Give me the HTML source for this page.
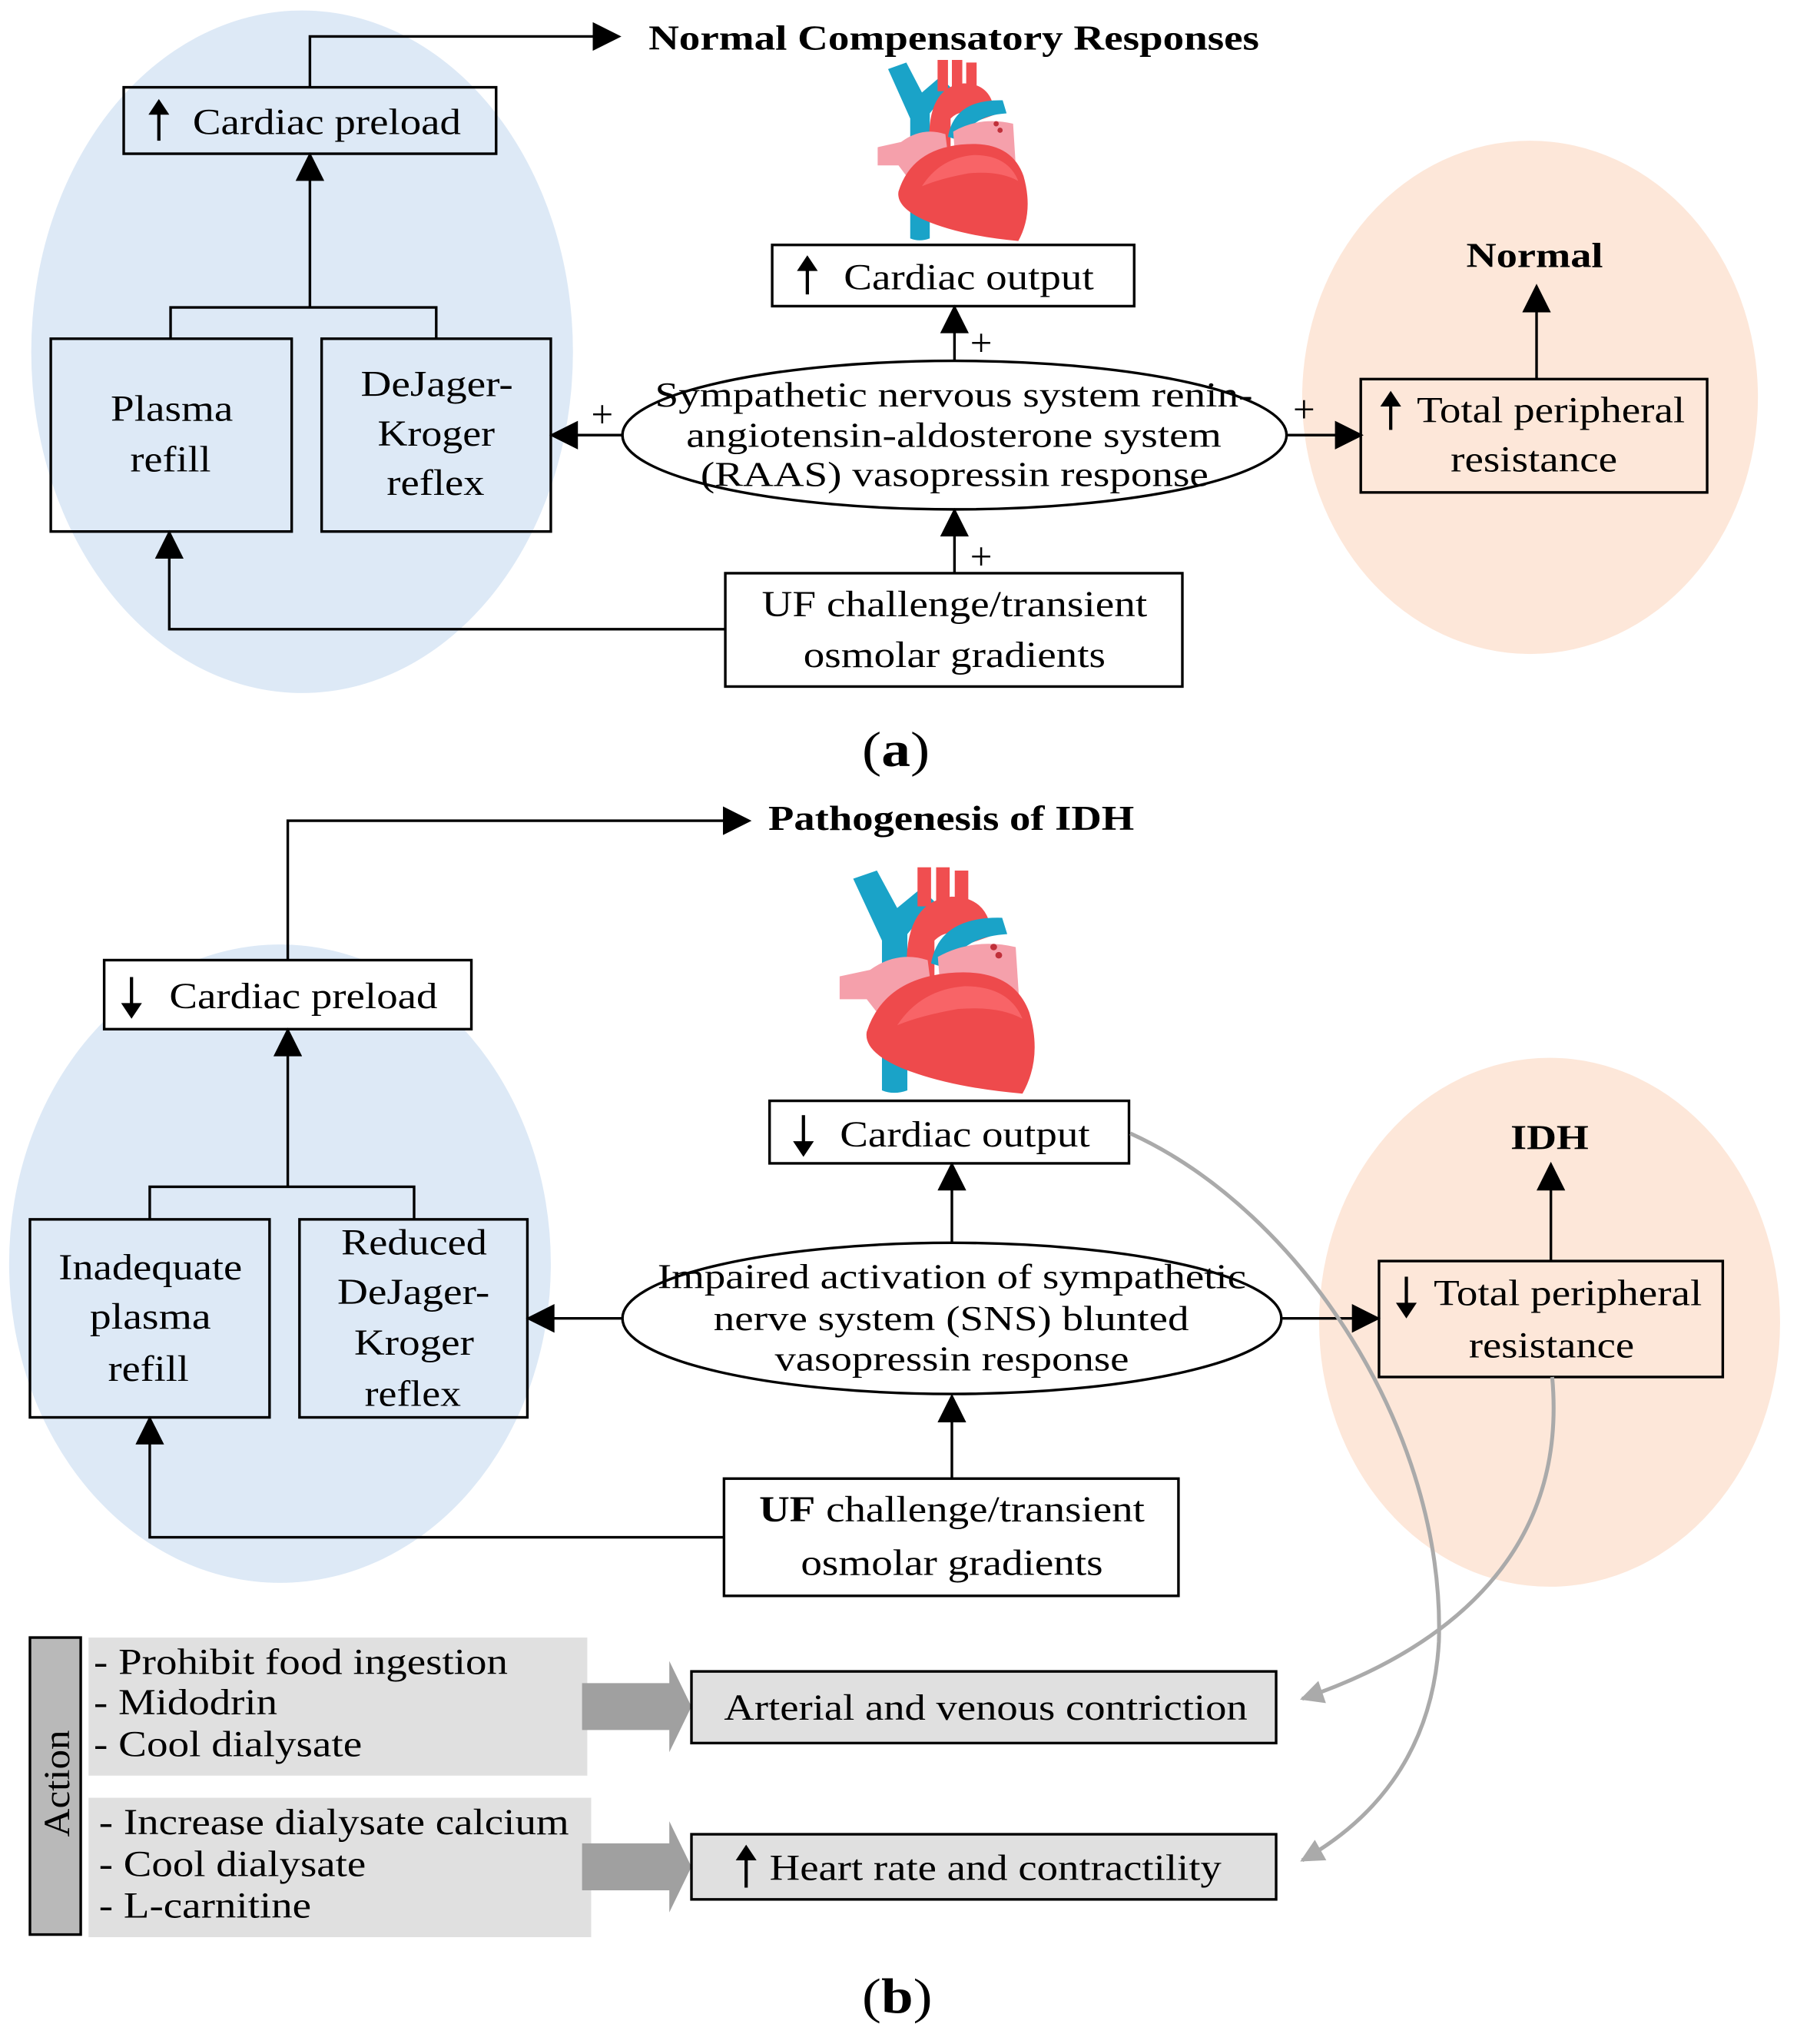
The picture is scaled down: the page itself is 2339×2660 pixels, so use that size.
<!DOCTYPE html>
<html><head><meta charset="utf-8"><style>
html,body{margin:0;padding:0;background:#fff}
svg{display:block}
text{font-family:"Liberation Serif",serif;fill:#000}
</style></head><body>
<svg width="2339" height="2660" viewBox="0 0 1380 1569" preserveAspectRatio="none" xmlns="http://www.w3.org/2000/svg">
<defs>
<marker id="ab" viewBox="0 0 10 10" refX="9" refY="5" markerWidth="28" markerHeight="22" markerUnits="userSpaceOnUse" orient="auto"><path d="M0,0 L10,5 L0,10z" fill="#000"/></marker>
<marker id="ag" viewBox="0 0 10 10" refX="9" refY="5" markerWidth="22" markerHeight="18" markerUnits="userSpaceOnUse" orient="auto"><path d="M0,0 L10,5 L0,10z" fill="#aaa"/></marker>
<g id="heart">
<path d="M4,10 L18,5 L30,28 L44,16 L52,24 L36,44 L36,140 Q28,143 21,140 L21,48 Z" fill="#1aa3c8"/>
<rect x="42" y="3" width="8" height="24" fill="#f04e50"/><rect x="53" y="3" width="8" height="24" fill="#f04e50"/><rect x="64" y="5" width="8" height="22" fill="#f04e50"/>
<path d="M36,74 Q32,24 62,21 Q84,21 86,45 L72,50 Q62,38 52,48 L52,74 Z" fill="#f04e50"/>
<path d="M50,62 Q55,33 92,34 L95,44 Q66,46 62,66 Z" fill="#1aa3c8"/>
<path d="M54,58 Q75,46 100,52 L102,84 L56,84 Z" fill="#f5a0ab"/>
<circle cx="87" cy="52" r="2" fill="#c0303a"/><circle cx="90" cy="57" r="2" fill="#c0303a"/>
<path d="M-4,70 L14,66 Q30,54 48,60 L52,92 L24,100 L12,84 L-4,84 Z" fill="#f5a0ab"/>
<path d="M12,104 Q22,72 60,68 Q98,64 108,92 Q116,120 104,142 Q60,138 32,126 Q10,116 12,104 Z" fill="#ee4a4c"/>
<path d="M30,100 Q44,78 70,76 Q96,76 104,96 Q90,88 66,90 Q44,94 30,100 Z" fill="#f86467"/>
</g>
</defs>

<!-- Panel a -->
<ellipse cx="232" cy="270" rx="208" ry="262" fill="#dde9f6"/>
<ellipse cx="1175" cy="305" rx="175" ry="197" fill="#fde7d9"/>
<use href="#heart" transform="translate(678,43)"/>

<polyline points="238,67 238,28 475,28" fill="none" stroke="#000" stroke-width="2" marker-end="url(#ab)"/>
<text x="498" y="38" font-size="27" font-weight="bold" textLength="469" lengthAdjust="spacingAndGlyphs">Normal Compensatory Responses</text>

<rect x="95" y="67" width="286" height="51" fill="none" stroke="#000" stroke-width="2"/>
<path d="M122,108 L122,84" stroke="#000" stroke-width="2.5"/><path d="M114,88 L122,76 L130,88z"/>
<text x="148" y="103" font-size="28" textLength="206" lengthAdjust="spacingAndGlyphs">Cardiac preload</text>

<rect x="593" y="188" width="278" height="47" fill="none" stroke="#000" stroke-width="2"/>
<path d="M620,226 L620,204" stroke="#000" stroke-width="2.5"/><path d="M612,208 L620,196 L628,208z"/>
<text x="648" y="222" font-size="28" textLength="192" lengthAdjust="spacingAndGlyphs">Cardiac output</text>

<line x1="733" y1="277" x2="733" y2="236" stroke="#000" stroke-width="2" marker-end="url(#ab)"/>
<text x="745" y="273" font-size="30">+</text>

<ellipse cx="733" cy="334" rx="255" ry="57" fill="#fff" stroke="#000" stroke-width="2"/>
<text x="503" y="312" font-size="27" textLength="459" lengthAdjust="spacingAndGlyphs">Sympathetic nervous system renin-</text>
<text x="527" y="343" font-size="27" textLength="411" lengthAdjust="spacingAndGlyphs">angiotensin-aldosterone system</text>
<text x="538" y="373" font-size="27" textLength="390" lengthAdjust="spacingAndGlyphs">(RAAS) vasopressin response</text>

<rect x="39" y="260" width="185" height="148" fill="none" stroke="#000" stroke-width="2"/>
<text x="85" y="323" font-size="28" textLength="94" lengthAdjust="spacingAndGlyphs">Plasma</text>
<text x="100" y="362" font-size="28" textLength="62" lengthAdjust="spacingAndGlyphs">refill</text>
<rect x="247" y="260" width="176" height="148" fill="none" stroke="#000" stroke-width="2"/>
<text x="277" y="304" font-size="28" textLength="117" lengthAdjust="spacingAndGlyphs">DeJager-</text>
<text x="290" y="342" font-size="28" textLength="90" lengthAdjust="spacingAndGlyphs">Kroger</text>
<text x="297" y="380" font-size="28" textLength="75" lengthAdjust="spacingAndGlyphs">reflex</text>

<polyline points="131,260 131,236 335,236 335,260" fill="none" stroke="#000" stroke-width="2"/>
<line x1="238" y1="236" x2="238" y2="119" stroke="#000" stroke-width="2" marker-end="url(#ab)"/>

<line x1="478" y1="334" x2="424" y2="334" stroke="#000" stroke-width="2" marker-end="url(#ab)"/>
<text x="454" y="328" font-size="30">+</text>
<line x1="988" y1="334" x2="1045" y2="334" stroke="#000" stroke-width="2" marker-end="url(#ab)"/>
<text x="993" y="324" font-size="30">+</text>

<rect x="1045" y="291" width="266" height="87" fill="none" stroke="#000" stroke-width="2"/>
<path d="M1068,330 L1068,308" stroke="#000" stroke-width="2.5"/><path d="M1060,312 L1068,300 L1076,312z"/>
<text x="1088" y="324" font-size="28" textLength="206" lengthAdjust="spacingAndGlyphs">Total peripheral</text>
<text x="1114" y="362" font-size="28" textLength="128" lengthAdjust="spacingAndGlyphs">resistance</text>
<text x="1126" y="205" font-size="27" font-weight="bold" textLength="105" lengthAdjust="spacingAndGlyphs">Normal</text>
<line x1="1180" y1="291" x2="1180" y2="220" stroke="#000" stroke-width="2" marker-end="url(#ab)"/>

<rect x="557" y="440" width="351" height="87" fill="none" stroke="#000" stroke-width="2"/>
<text x="585" y="473" font-size="28" textLength="296" lengthAdjust="spacingAndGlyphs">UF challenge/transient</text>
<text x="617" y="512" font-size="28" textLength="232" lengthAdjust="spacingAndGlyphs">osmolar gradients</text>
<line x1="733" y1="440" x2="733" y2="392" stroke="#000" stroke-width="2" marker-end="url(#ab)"/>
<text x="745" y="437" font-size="30">+</text>
<polyline points="557,483 130,483 130,409" fill="none" stroke="#000" stroke-width="2" marker-end="url(#ab)"/>

<text x="662" y="588" font-size="38" textLength="52" lengthAdjust="spacingAndGlyphs">(<tspan font-weight="bold">a</tspan>)</text>

<!-- Panel b -->
<ellipse cx="215" cy="970" rx="208" ry="245" fill="#dde9f6"/>
<ellipse cx="1190" cy="1015" rx="177" ry="203" fill="#fde7d9"/>
<use href="#heart" transform="translate(650,662) scale(1.3,1.25)"/>

<polyline points="221,737 221,630 575,630" fill="none" stroke="#000" stroke-width="2" marker-end="url(#ab)"/>
<text x="590" y="637" font-size="27" font-weight="bold" textLength="281" lengthAdjust="spacingAndGlyphs">Pathogenesis of IDH</text>

<rect x="80" y="737" width="282" height="53" fill="#fff" stroke="#000" stroke-width="2"/>
<path d="M101,750 L101,774" stroke="#000" stroke-width="2.5"/><path d="M93,770 L101,782 L109,770z"/>
<text x="130" y="774" font-size="28" textLength="206" lengthAdjust="spacingAndGlyphs">Cardiac preload</text>

<rect x="591" y="845" width="276" height="48" fill="#fff" stroke="#000" stroke-width="2"/>
<path d="M617,856 L617,880" stroke="#000" stroke-width="2.5"/><path d="M609,876 L617,888 L625,876z"/>
<text x="645" y="880" font-size="28" textLength="192" lengthAdjust="spacingAndGlyphs">Cardiac output</text>
<line x1="731" y1="954" x2="731" y2="894" stroke="#000" stroke-width="2" marker-end="url(#ab)"/>

<ellipse cx="731" cy="1012" rx="253" ry="58" fill="#fff" stroke="#000" stroke-width="2"/>
<text x="505" y="989" font-size="27" textLength="452" lengthAdjust="spacingAndGlyphs">Impaired activation of sympathetic</text>
<text x="548" y="1021" font-size="27" textLength="365" lengthAdjust="spacingAndGlyphs">nerve system (SNS) blunted</text>
<text x="595" y="1052" font-size="27" textLength="272" lengthAdjust="spacingAndGlyphs">vasopressin response</text>

<rect x="23" y="936" width="184" height="152" fill="none" stroke="#000" stroke-width="2"/>
<text x="45" y="982" font-size="28" textLength="141" lengthAdjust="spacingAndGlyphs">Inadequate</text>
<text x="69" y="1020" font-size="28" textLength="93" lengthAdjust="spacingAndGlyphs">plasma</text>
<text x="83" y="1060" font-size="28" textLength="62" lengthAdjust="spacingAndGlyphs">refill</text>
<rect x="230" y="936" width="175" height="152" fill="none" stroke="#000" stroke-width="2"/>
<text x="262" y="963" font-size="28" textLength="112" lengthAdjust="spacingAndGlyphs">Reduced</text>
<text x="259" y="1001" font-size="28" textLength="117" lengthAdjust="spacingAndGlyphs">DeJager-</text>
<text x="272" y="1040" font-size="28" textLength="92" lengthAdjust="spacingAndGlyphs">Kroger</text>
<text x="280" y="1079" font-size="28" textLength="74" lengthAdjust="spacingAndGlyphs">reflex</text>
<polyline points="115,936 115,911 318,911 318,936" fill="none" stroke="#000" stroke-width="2"/>
<line x1="221" y1="911" x2="221" y2="791" stroke="#000" stroke-width="2" marker-end="url(#ab)"/>

<line x1="478" y1="1012" x2="406" y2="1012" stroke="#000" stroke-width="2" marker-end="url(#ab)"/>
<line x1="984" y1="1012" x2="1058" y2="1012" stroke="#000" stroke-width="2" marker-end="url(#ab)"/>

<rect x="1059" y="968" width="264" height="89" fill="none" stroke="#000" stroke-width="2"/>
<path d="M1080,980 L1080,1004" stroke="#000" stroke-width="2.5"/><path d="M1072,1000 L1080,1012 L1088,1000z"/>
<text x="1101" y="1002" font-size="28" textLength="206" lengthAdjust="spacingAndGlyphs">Total peripheral</text>
<text x="1128" y="1042" font-size="28" textLength="127" lengthAdjust="spacingAndGlyphs">resistance</text>
<text x="1160" y="882" font-size="27" font-weight="bold" textLength="60" lengthAdjust="spacingAndGlyphs">IDH</text>
<line x1="1191" y1="968" x2="1191" y2="894" stroke="#000" stroke-width="2" marker-end="url(#ab)"/>

<rect x="556" y="1135" width="349" height="90" fill="#fff" stroke="#000" stroke-width="2"/>
<text x="583" y="1168" font-size="28" textLength="296" lengthAdjust="spacingAndGlyphs"><tspan font-weight="bold">UF</tspan> challenge/transient</text>
<text x="615" y="1209" font-size="28" textLength="232" lengthAdjust="spacingAndGlyphs">osmolar gradients</text>
<line x1="731" y1="1135" x2="731" y2="1072" stroke="#000" stroke-width="2" marker-end="url(#ab)"/>
<polyline points="556,1180 115,1180 115,1089" fill="none" stroke="#000" stroke-width="2" marker-end="url(#ab)"/>

<path d="M868,870 C1000,930 1110,1100 1105,1260 C1100,1350 1050,1400 1000,1428" fill="none" stroke="#aaa" stroke-width="3" marker-end="url(#ag)"/>
<path d="M1192,1057 C1205,1200 1100,1270 1000,1304" fill="none" stroke="#aaa" stroke-width="3" marker-end="url(#ag)"/>

<rect x="23" y="1257" width="39" height="228" fill="#b9b9b9" stroke="#000" stroke-width="2"/>
<text transform="translate(53,1410) rotate(-90)" font-size="28" textLength="82" lengthAdjust="spacingAndGlyphs">Action</text>
<rect x="68" y="1257" width="383" height="106" fill="#e0e0e0"/>
<text x="72" y="1285" font-size="28" textLength="318" lengthAdjust="spacingAndGlyphs">- Prohibit food ingestion</text>
<text x="72" y="1316" font-size="28" textLength="141" lengthAdjust="spacingAndGlyphs">- Midodrin</text>
<text x="72" y="1348" font-size="28" textLength="206" lengthAdjust="spacingAndGlyphs">- Cool dialysate</text>
<rect x="68" y="1380" width="386" height="107" fill="#e0e0e0"/>
<text x="76" y="1408" font-size="28" textLength="361" lengthAdjust="spacingAndGlyphs">- Increase dialysate calcium</text>
<text x="76" y="1440" font-size="28" textLength="205" lengthAdjust="spacingAndGlyphs">- Cool dialysate</text>
<text x="76" y="1472" font-size="28" textLength="163" lengthAdjust="spacingAndGlyphs">- L-carnitine</text>

<path d="M447,1292 L514,1292 L514,1275 L531,1310 L514,1345 L514,1328 L447,1328 Z" fill="#a0a0a0"/>
<path d="M447,1415 L514,1415 L514,1398 L531,1433 L514,1468 L514,1451 L447,1451 Z" fill="#a0a0a0"/>

<rect x="531" y="1283" width="449" height="55" fill="#e0e0e0" stroke="#000" stroke-width="2"/>
<text x="556" y="1320" font-size="28" textLength="402" lengthAdjust="spacingAndGlyphs">Arterial and venous contriction</text>
<rect x="531" y="1408" width="449" height="50" fill="#e0e0e0" stroke="#000" stroke-width="2"/>
<path d="M573,1449 L573,1424" stroke="#000" stroke-width="2.5"/><path d="M565,1428 L573,1416 L581,1428z"/>
<text x="591" y="1443" font-size="28" textLength="347" lengthAdjust="spacingAndGlyphs">Heart rate and contractility</text>

<text x="662" y="1545" font-size="38" textLength="54" lengthAdjust="spacingAndGlyphs">(<tspan font-weight="bold">b</tspan>)</text>
</svg>
</body></html>
